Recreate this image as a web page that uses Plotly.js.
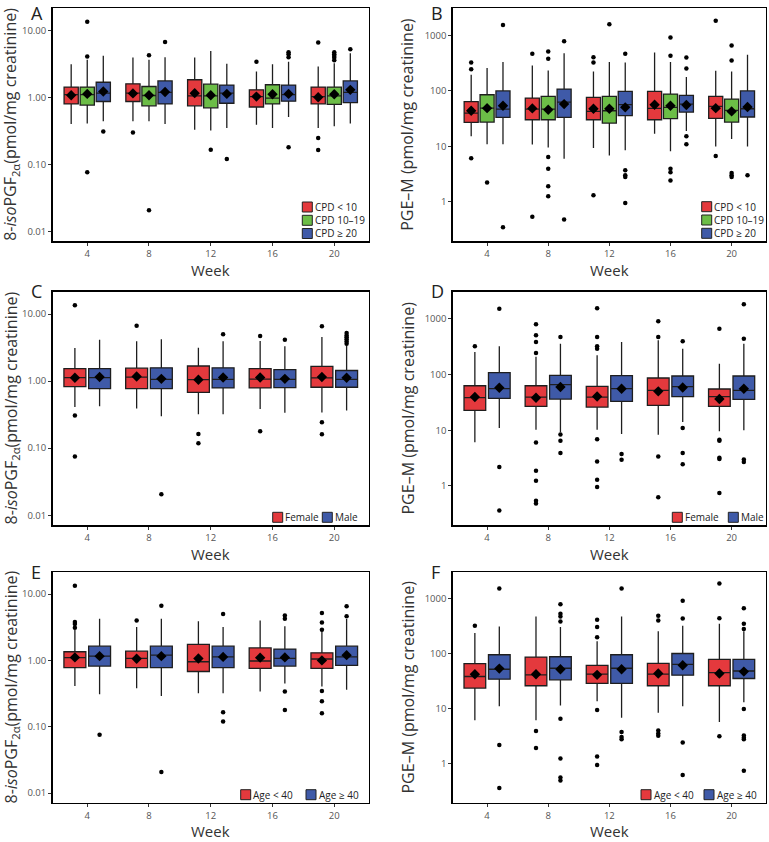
<!DOCTYPE html>
<html>
<head>
<meta charset="utf-8">
<script src="https://cdn.plot.ly/plotly-3.0.1.min.js"></script>
<style>html,body{margin:0;padding:0;background:#fff}#chart{width:769px;height:842px}</style>
</head>
<body>
<div id="chart"></div>
<script>
// ---------------- categories & tick labels ----------------
const weeks = [4, 8, 12, 16, 20];
const weekLabels = ['4', '8', '12', '16', '20'];
const isoTickVals = [0.01, 0.1, 1, 10];
const isoTickText = ['0.01', '0.10', '1.00', '10.00'];
const pgeTickVals = [1, 10, 100, 1000];
const pgeTickText = ['1', '10', '100', '1000'];
const cpdGroups = ['CPD < 10', 'CPD 10–19', 'CPD ≥ 20'];
const sexGroups = ['Female', 'Male'];
const ageGroups = ['Age < 40', 'Age ≥ 40'];
const isoTitle = '8-<i>iso</i>PGF<sub>2α</sub>(pmol/mg creatinine)';
const pgeTitle = 'PGE–M (pmol/mg creatinine)';

// ---------------- Panel A: 8-isoPGF2a by CPD ----------------
const A_lt10_lo   = [0.40, 0.44, 0.33, 0.39, 0.35];
const A_lt10_q1   = [0.80, 0.87, 0.75, 0.72, 0.80];
const A_lt10_med  = [1.10, 1.16, 1.06, 1.03, 1.03];
const A_lt10_q3   = [1.43, 1.60, 1.84, 1.30, 1.43];
const A_lt10_hi   = [3.15, 3.95, 3.95, 2.44, 2.90];
const A_lt10_mean = [1.08, 1.15, 1.16, 1.03, 1.01];
const A_lt10_out  = [[], [0.30], [], [3.41], [6.62, 0.247, 0.164]];

const A_mid_lo   = [0.41, 0.44, 0.32, 0.35, 0.37];
const A_mid_q1   = [0.77, 0.75, 0.70, 0.80, 0.79];
const A_mid_med  = [1.10, 1.07, 1.06, 0.98, 1.06];
const A_mid_q3   = [1.43, 1.46, 1.58, 1.55, 1.43];
const A_mid_hi   = [3.65, 3.65, 4.97, 3.15, 3.26];
const A_mid_mean = [1.13, 1.08, 1.08, 1.12, 1.12];
const A_mid_out  = [[13.5, 4.09, 0.076], [4.28, 0.0206], [0.166], [], [4.75, 4.43, 4.18, 3.91, 3.61]];

const A_ge20_lo   = [0.44, 0.40, 0.35, 0.51, 0.41];
const A_ge20_q1   = [0.87, 0.80, 0.82, 0.88, 0.84];
const A_ge20_med  = [1.16, 1.19, 1.16, 1.10, 1.19];
const A_ge20_q3   = [1.69, 1.77, 1.53, 1.53, 1.77];
const A_ge20_hi   = [4.19, 4.00, 3.18, 3.41, 4.59];
const A_ge20_mean = [1.23, 1.21, 1.13, 1.13, 1.30];
const A_ge20_out  = [[0.31], [6.77], [0.12], [4.75, 4.43, 4.0, 0.18], [5.27]];

// ---------------- Panel B: PGE-M by CPD ----------------
const B_lt10_lo   = [15.2, 10.8, 9.4, 17, 10];
const B_lt10_q1   = [27.2, 30.3, 30.3, 30.3, 32];
const B_lt10_med  = [40, 47, 42.8, 48.5, 52.7];
const B_lt10_q3   = [64, 74.4, 76.5, 98, 79.8];
const B_lt10_hi   = [196, 288, 225, 494, 231];
const B_lt10_mean = [44, 48.5, 47.8, 56.5, 49];
const B_lt10_out  = [[326, 247, 6.1], [467, 0.54], [407, 326, 1.32], [], [1834, 6.7]];

const B_mid_lo   = [11, 9.6, 6.9, 8.2, 13.6];
const B_mid_q1   = [27.5, 30.3, 26.4, 31.6, 27.5];
const B_mid_med  = [49, 47, 44, 50.6, 44.7];
const B_mid_q3   = [85.5, 79.8, 79.8, 87.9, 71.4];
const B_mid_hi   = [258, 234, 331, 331, 225];
const B_mid_mean = [49, 45.9, 47.8, 54, 42.8];
const B_mid_out  = [[2.23], [515, 380, 6.45, 3.98, 1.91, 1.26], [1597], [919, 430, 3.98, 3.42, 2.42], [660, 354, 3.32, 3.02, 2.8]];

const B_ge20_lo   = [11, 6.0, 8.5, 19, 10];
const B_ge20_q1   = [33.4, 33.4, 35.8, 41.7, 33.9];
const B_ge20_med  = [47, 63, 56.5, 58, 47.8];
const B_ge20_q3   = [100, 108, 98, 83, 100];
const B_ge20_hi   = [331, 480, 326, 178, 448];
const B_ge20_mean = [54, 58, 50.6, 56, 51.3];
const B_ge20_out  = [[1553, 0.35], [789, 0.48], [467, 3.72, 3.02, 2.8, 0.96], [401, 255, 15.2, 11], [3.02]];

// ---------------- Panel C: 8-isoPGF2a by sex ----------------
const C_f_lo   = [0.41, 0.39, 0.32, 0.385, 0.34];
const C_f_q1   = [0.83, 0.77, 0.68, 0.79, 0.81];
const C_f_med  = [1.13, 1.15, 1.05, 1.07, 1.12];
const C_f_q3   = [1.53, 1.56, 1.68, 1.53, 1.66];
const C_f_hi   = [3.11, 3.92, 3.15, 3.96, 4.55];
const C_f_mean = [1.12, 1.17, 1.05, 1.13, 1.15];
const C_f_out  = [[13.5, 0.307, 0.075], [6.71], [0.163, 0.118], [4.71, 0.179], [6.56, 0.244, 0.161]];

const C_m_lo   = [0.42, 0.30, 0.32, 0.336, 0.365];
const C_m_q1   = [0.77, 0.77, 0.79, 0.80, 0.81];
const C_m_med  = [1.13, 1.06, 1.06, 1.06, 1.06];
const C_m_q3   = [1.53, 1.58, 1.58, 1.48, 1.44];
const C_m_hi   = [4.15, 4.19, 3.92, 3.30, 3.40];
const C_m_mean = [1.15, 1.08, 1.13, 1.08, 1.12];
const C_m_out  = [[], [0.0205], [4.98], [4.15], [5.2, 4.8, 4.5, 4.2, 3.9, 3.6]];

// ---------------- Panel D: PGE-M by sex ----------------
const D_f_lo   = [6.1, 10.2, 10.2, 8.3, 9.6];
const D_f_q1   = [22.7, 26.8, 26, 27.9, 26.8];
const D_f_med  = [38.4, 39.4, 39.4, 52, 40];
const D_f_q3   = [63, 63, 61.4, 86.7, 55];
const D_f_hi   = [255, 210, 222, 413, 157];
const D_f_mean = [39.4, 38.4, 40.4, 49.9, 36.3];
const D_f_out  = [[322], [800, 508, 385, 244, 6.0, 1.86, 1.23, 0.54, 0.48], [1553, 474, 322, 292, 6.9, 2.74, 1.28, 0.95], [906, 474, 3.37, 0.625], [670, 6.7, 6.45, 3.19, 3.02, 0.74]];

const D_m_lo   = [11, 9.2, 8.5, 14, 10];
const D_m_q1   = [37.3, 36.3, 33, 40, 35.8];
const D_m_med  = [55.7, 65.8, 55.7, 60.5, 52];
const D_m_q3   = [108, 96.8, 95.5, 94.2, 94.2];
const D_m_hi   = [322, 360, 385, 292, 360];
const D_m_mean = [58, 59.7, 55.7, 58.5, 55.7];
const D_m_out  = [[1532, 2.17, 0.36], [474, 8.4, 6.45, 3.87], [3.72, 2.94], [396, 10.9, 3.87, 2.45], [1834, 442, 2.98, 2.67]];

// ---------------- Panel E: 8-isoPGF2a by age ----------------
const E_y_lo   = [0.41, 0.38, 0.32, 0.34, 0.405];
const E_y_q1   = [0.78, 0.78, 0.68, 0.76, 0.76];
const E_y_med  = [1.10, 1.07, 0.955, 0.98, 1.05];
const E_y_q3   = [1.35, 1.38, 1.75, 1.54, 1.30];
const E_y_hi   = [2.9, 3.18, 3.9, 3.99, 2.75];
const E_y_mean = [1.11, 1.06, 1.07, 1.10, 1.0];
const E_y_out  = [[13.4, 3.8, 3.55, 3.1], [3.99], [], [], [5.19, 3.73, 2.9, 0.345, 0.242, 0.16]];

const E_o_lo   = [0.31, 0.29, 0.32, 0.45, 0.36];
const E_o_q1   = [0.82, 0.78, 0.78, 0.82, 0.84];
const E_o_med  = [1.16, 1.20, 1.13, 1.07, 1.13];
const E_o_q3   = [1.64, 1.64, 1.64, 1.48, 1.64];
const E_o_hi   = [4.23, 4.23, 3.18, 3.28, 4.2];
const E_o_mean = [1.16, 1.16, 1.13, 1.11, 1.20];
const E_o_out  = [[0.0754], [6.68, 0.0207], [5.01, 0.166, 0.12], [4.74, 4.23, 0.34, 0.178], [6.53, 4.63]];

// ---------------- Panel F: PGE-M by age ----------------
const F_y_lo   = [6.2, 6.2, 13.8, 8.5, 5.8];
const F_y_q1   = [24, 26.4, 29.1, 26.4, 26.4];
const F_y_med  = [38.9, 41.7, 42.8, 42.8, 45.9];
const F_y_q3   = [66.6, 87.9, 62.2, 67.6, 79.8];
const F_y_hi   = [241, 480, 171, 258, 355];
const F_y_mean = [42.8, 42.8, 41.7, 44, 44];
const F_y_out  = [[326], [3.98, 1.94], [418, 309, 201, 9.6, 1.36, 0.96], [494, 407, 4.04, 3.56, 3.24], [1900, 448, 3.19]];

const F_o_lo   = [11.2, 11.5, 6.9, 11.2, 13.2];
const F_o_q1   = [34.8, 33.9, 29.1, 41.1, 35.8];
const F_o_med  = [52.7, 55, 55, 64.9, 49];
const F_o_q3   = [96.8, 89, 96.8, 102, 79.8];
const F_o_hi   = [317, 309, 480, 326, 258];
const F_o_mean = [54.2, 52.7, 52.7, 62.2, 47.8];
const F_o_out  = [[1553, 2.2, 0.365], [800, 537, 480, 391, 6.64, 1.26, 0.57, 0.5], [1553, 3.82, 3.1, 2.82], [931, 442, 2.45, 0.63], [678, 355, 284, 10, 3.3, 3.0, 2.8, 0.75]];

// ---------------- styling ----------------
const RED = '#E4393D', GREEN = '#6CBD47', BLUE = '#3F5AA8';
const W = 769, H = 842;
const px = v => v / W;
const py = v => 1 - v / H;

const colX = [[52.5, 369], [452.7, 766]];
const rowY = [[8.3, 241.3], [291.7, 525.3], [572, 803]];

function stats(lo, q1, med, q3, hi, mean, out) { return {lo, q1, med, q3, hi, mean, out}; }

const panels = [
  {letter: 'A', col: 0, row: 0, kind: 'iso', names: cpdGroups, colors: [RED, GREEN, BLUE],
   groups: [stats(A_lt10_lo, A_lt10_q1, A_lt10_med, A_lt10_q3, A_lt10_hi, A_lt10_mean, A_lt10_out),
            stats(A_mid_lo, A_mid_q1, A_mid_med, A_mid_q3, A_mid_hi, A_mid_mean, A_mid_out),
            stats(A_ge20_lo, A_ge20_q1, A_ge20_med, A_ge20_q3, A_ge20_hi, A_ge20_mean, A_ge20_out)],
   legend: {x: [302.3, 302.3, 302.3], dy: [34.3, 21, 7.8]}},
  {letter: 'B', col: 1, row: 0, kind: 'pge', names: cpdGroups, colors: [RED, GREEN, BLUE],
   groups: [stats(B_lt10_lo, B_lt10_q1, B_lt10_med, B_lt10_q3, B_lt10_hi, B_lt10_mean, B_lt10_out),
            stats(B_mid_lo, B_mid_q1, B_mid_med, B_mid_q3, B_mid_hi, B_mid_mean, B_mid_out),
            stats(B_ge20_lo, B_ge20_q1, B_ge20_med, B_ge20_q3, B_ge20_hi, B_ge20_mean, B_ge20_out)],
   legend: {x: [701.7, 701.7, 701.7], dy: [34.6, 21.3, 8]}},
  {letter: 'C', col: 0, row: 1, kind: 'iso', names: sexGroups, colors: [RED, BLUE],
   groups: [stats(C_f_lo, C_f_q1, C_f_med, C_f_q3, C_f_hi, C_f_mean, C_f_out),
            stats(C_m_lo, C_m_q1, C_m_med, C_m_q3, C_m_hi, C_m_mean, C_m_out)],
   legend: {x: [272.7, 322.3], dy: [8, 8]}},
  {letter: 'D', col: 1, row: 1, kind: 'pge', names: sexGroups, colors: [RED, BLUE],
   groups: [stats(D_f_lo, D_f_q1, D_f_med, D_f_q3, D_f_hi, D_f_mean, D_f_out),
            stats(D_m_lo, D_m_q1, D_m_med, D_m_q3, D_m_hi, D_m_mean, D_m_out)],
   legend: {x: [672.3, 728.3], dy: [8, 8]}},
  {letter: 'E', col: 0, row: 2, kind: 'iso', names: ageGroups, colors: [RED, BLUE],
   groups: [stats(E_y_lo, E_y_q1, E_y_med, E_y_q3, E_y_hi, E_y_mean, E_y_out),
            stats(E_o_lo, E_o_q1, E_o_med, E_o_q3, E_o_hi, E_o_mean, E_o_out)],
   legend: {x: [240.7, 306], dy: [8.3, 8.3]}},
  {letter: 'F', col: 1, row: 2, kind: 'pge', names: ageGroups, colors: [RED, BLUE],
   groups: [stats(F_y_lo, F_y_q1, F_y_med, F_y_q3, F_y_hi, F_y_mean, F_y_out),
            stats(F_o_lo, F_o_q1, F_o_med, F_o_q3, F_o_hi, F_o_mean, F_o_out)],
   legend: {x: [641, 704], dy: [8.3, 8.3]}}
];

const data = [];
const layout = {
  width: W, height: H,
  margin: {l: 0, r: 0, t: 0, b: 0},
  paper_bgcolor: '#fff', plot_bgcolor: '#fff',
  showlegend: false,
  font: {family: '"Open Sans", "DejaVu Sans", sans-serif', color: '#333'},
  shapes: [], annotations: []
};

panels.forEach((p, i) => {
  const n = i + 1;
  const xa = n === 1 ? 'x' : 'x' + n;
  const ya = n === 1 ? 'y' : 'y' + n;
  const xKey = n === 1 ? 'xaxis' : 'xaxis' + n;
  const yKey = n === 1 ? 'yaxis' : 'yaxis' + n;
  const [xl, xr] = colX[p.col];
  const [yt, yb] = rowY[p.row];
  const ng = p.groups.length;
  const offsets = ng === 3 ? [-1.04, 0, 1.04] : [-0.8, 0.8];
  const bw = ng === 3 ? 0.92 : 1.42;

  p.groups.forEach((g, gi) => {
    const xs = weeks.map(w => w + offsets[gi]);
    data.push({
      type: 'box', xaxis: xa, yaxis: ya, name: p.names[gi],
      x: xs, q1: g.q1, median: g.med, q3: g.q3, lowerfence: g.lo, upperfence: g.hi,
      width: bw, whiskerwidth: 0, boxpoints: false,
      fillcolor: p.colors[gi], line: {color: '#1e1e1e', width: 1.3},
      hoverinfo: 'skip'
    });
    const ox = [], oy = [];
    g.out.forEach((arr, wi) => arr.forEach(v => { ox.push(xs[wi]); oy.push(v); }));
    data.push({
      type: 'scatter', mode: 'markers', xaxis: xa, yaxis: ya, x: ox, y: oy,
      marker: {color: '#000', size: 4.5}, hoverinfo: 'skip'
    });
    data.push({
      type: 'scatter', mode: 'markers', xaxis: xa, yaxis: ya, x: xs, y: g.mean,
      marker: {color: '#000', size: 8, symbol: 'diamond'}, hoverinfo: 'skip'
    });
  });

  layout[xKey] = {
    domain: [px(xl), px(xr)], anchor: ya, range: [1.75, 22.25],
    tickvals: weeks, ticktext: weekLabels, ticks: 'outside', ticklen: 3, tickwidth: 1, tickcolor: '#333',
    tickfont: {size: 9.5, color: '#555'}, showgrid: false, zeroline: false,
    showline: true, mirror: true, linecolor: '#000', linewidth: 1.4
  };
  const iso = p.kind === 'iso';
  layout[yKey] = {
    domain: [py(yb), py(yt)], anchor: xa, type: 'log',
    range: iso ? [-2.15, 1.333] : [-0.71, 3.49],
    tickvals: iso ? isoTickVals : pgeTickVals, ticktext: iso ? isoTickText : pgeTickText,
    ticks: 'outside', ticklen: 3, tickwidth: 1, tickcolor: '#333',
    tickfont: {size: 9.5, color: '#555'}, showgrid: false, zeroline: false,
    showline: true, mirror: true, linecolor: '#000', linewidth: 1.4
  };

  // panel letter
  const letterY = p.row === 0 ? {y: 1, yanchor: 'top'} : {y: py(yt - 0.5), yanchor: 'middle'};
  layout.annotations.push(Object.assign({
    text: p.letter, xref: 'paper', yref: 'paper', showarrow: false, borderpad: 0,
    x: px(p.col === 0 ? 29.5 : 429.5), xanchor: 'left',
    font: {size: 18, color: '#222'}
  }, letterY));
  // y title
  layout.annotations.push({
    text: iso ? isoTitle : pgeTitle, xref: 'paper', yref: 'paper', showarrow: false, borderpad: 0,
    textangle: -90, x: px(p.col === 0 ? 11 : 407), y: py((yt + yb) / 2),
    xanchor: 'center', yanchor: 'middle', font: {size: 16, color: '#333'}
  });
  // x title
  const weekY = p.row === 2 ? {y: 0, yanchor: 'bottom'} : {y: py(yb + 28.5), yanchor: 'middle'};
  layout.annotations.push(Object.assign({
    text: 'Week', xref: 'paper', yref: 'paper', showarrow: false, borderpad: 0,
    x: px((xl + xr) / 2), xanchor: 'center',
    font: {size: 15, color: '#333'}
  }, weekY));
  // manual legend (positions measured from the panel's bottom edge)
  p.names.forEach((nm, gi) => {
    const sx = p.legend.x[gi], cy = yb - p.legend.dy[gi];
    layout.shapes.push({
      type: 'rect', xref: 'paper', yref: 'paper',
      x0: px(sx), x1: px(sx + 10), y0: py(cy + 5), y1: py(cy - 5),
      fillcolor: p.colors[gi], line: {color: '#222', width: 1}
    });
    layout.annotations.push({
      text: nm, xref: 'paper', yref: 'paper', showarrow: false, borderpad: 0,
      x: px(sx + 11.5), y: py(cy), xanchor: 'left', yanchor: 'middle',
      font: {size: 10, color: '#222'}
    });
  });
});

Plotly.newPlot('chart', data, layout, {staticPlot: true, displayModeBar: false});
</script>
</body>
</html>
